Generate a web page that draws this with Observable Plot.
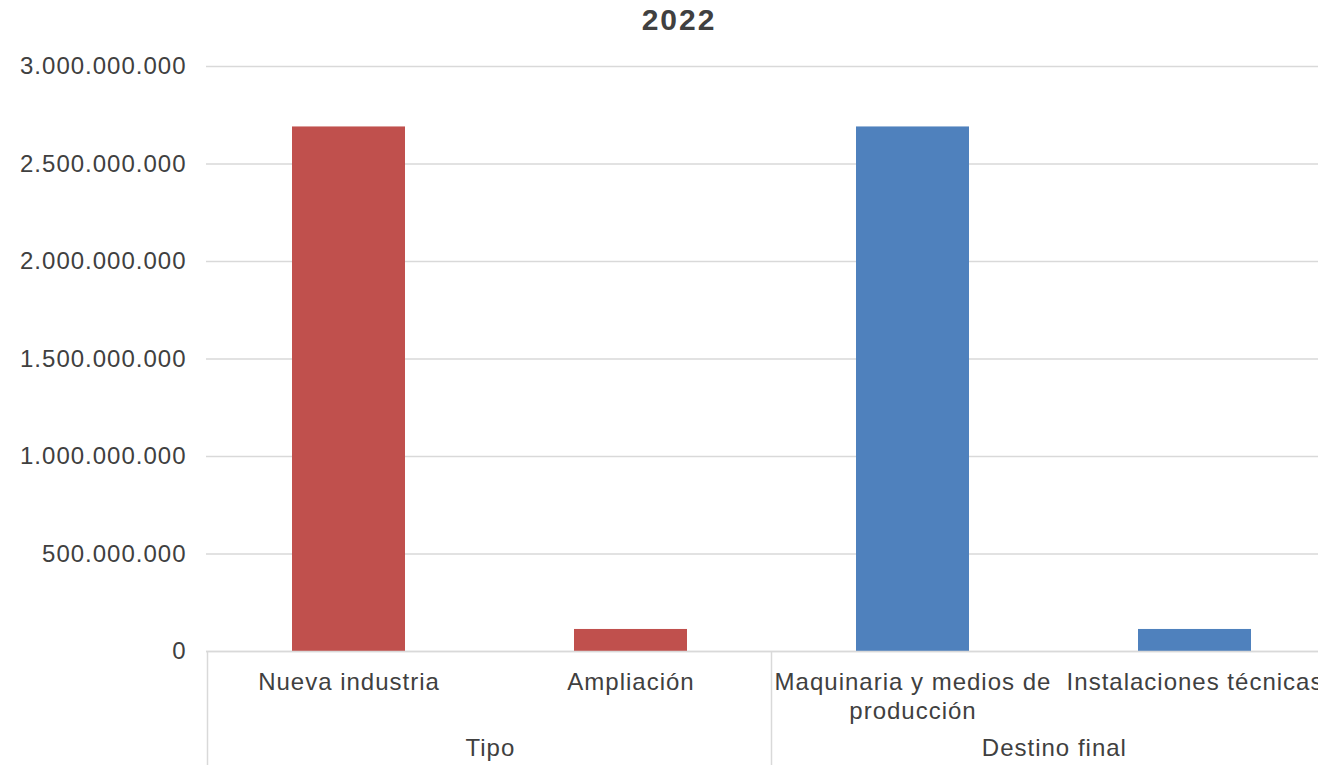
<!DOCTYPE html>
<html>
<head>
<meta charset="utf-8">
<script src="https://cdn.jsdelivr.net/npm/d3@7"></script>
<script src="https://cdn.jsdelivr.net/npm/@observablehq/plot@0.6"></script>
<style>
  html, body { margin: 0; padding: 0; background: #fff; overflow: hidden; width: 1318px; height: 765px; }
  #title { position: relative; width: 1318px; height: 40px; overflow: hidden; }
  #title span { position: absolute; left: 679px; top: 3px; transform: translateX(-50%); font: bold 30px "Liberation Sans", Arial, sans-serif; letter-spacing: 2px; color: #404040; white-space: nowrap; }
  #chart { width: 1318px; height: 725px; overflow: hidden; }
  #chart svg { display: block; max-width: none !important; height: 725px !important; width: 1340px !important; }
</style>
</head>
<body>
<div id="title"><span>2022</span></div>
<div id="chart"></div>
<script>
const categories = ["Nueva industria", "Ampliación", "Maquinaria y medios de producción", "Instalaciones técnicas"];
const tickLabels = ["Nueva industria", "Ampliación", "Maquinaria y medios de\nproducción", "Instalaciones técnicas"];
const groupOf = ["Tipo", "Tipo", "Destino final", "Destino final"];
const values = [2690000000, 113000000, 2690000000, 113000000];
const groupNames = ["Tipo", "Destino final"];
const groupColors = ["#C0504D", "#4F81BD"];
const yTicks = [0, 500000000, 1000000000, 1500000000, 2000000000, 2500000000, 3000000000];

const data = categories.map((c, i) => ({category: c, group: groupOf[i], value: values[i]}));
const labelOf = new Map(categories.map((c, i) => [c, tickLabels[i]]));
const groupFirst = groupNames.map(g => ({group: g, first: categories[groupOf.indexOf(g)]}));

const fmt = d3.formatLocale({decimal: ",", thousands: ".", grouping: [3], currency: ["", ""]}).format(",.0f");

const W = 1340, H = 725, mL = 206, mR = 3, mT = 26, mB = 114;
const step = (W - mL - mR) / categories.length;
const grid = "#d9d9d9";

const chart = Plot.plot({
  width: W, height: H,
  marginLeft: mL, marginRight: mR, marginTop: mT, marginBottom: mB,
  style: {color: "#404040", fontSize: "24px", fontFamily: "'Liberation Sans', Arial, sans-serif", background: "white", letterSpacing: "1px", maxWidth: "none"},
  x: {domain: categories, paddingInner: 0.6, paddingOuter: 0.3, axis: null},
  y: {domain: [0, 3000000000], axis: null},
  color: {domain: groupNames, range: groupColors},
  marks: [
    Plot.gridY(yTicks, {stroke: grid, strokeOpacity: 1, strokeWidth: 1.5}),
    Plot.axisY(yTicks, {tickSize: 0, tickPadding: 20, tickFormat: fmt, fontSize: 24, label: null}),
    Plot.barY(data, {x: "category", y: "value", fill: "group"}),
    Plot.ruleY([0], {stroke: grid, strokeWidth: 1.5}),
    Plot.axisX(categories, {tickSize: 0, tickPadding: 19, tickFormat: d => labelOf.get(d), fontSize: 24, lineHeight: 1.17, label: null}),
    Plot.text(groupFirst, {x: "first", text: "group", frameAnchor: "bottom", lineAnchor: "top", dy: 87, dx: step / 2, fontSize: 24})
  ]
});
document.getElementById("chart").appendChild(chart);

// group separators drawn from the band scale
const xs = chart.scale("x");
const seps = [categories[0], categories[groupOf.indexOf("Destino final")]];
const svg = d3.select(chart);
const y0 = H - mB;
seps.forEach(c => {
  const px = xs.apply(c) - (xs.step - xs.bandwidth) / 2;
  svg.append("line").attr("x1", px).attr("x2", px).attr("y1", y0).attr("y2", H)
    .attr("stroke", grid).attr("stroke-width", 1.5);
});
const last = categories[categories.length - 1];
const pxEnd = xs.apply(last) + xs.bandwidth + (xs.step - xs.bandwidth) / 2;
svg.append("line").attr("x1", pxEnd).attr("x2", pxEnd).attr("y1", y0).attr("y2", H)
  .attr("stroke", grid).attr("stroke-width", 1.5);
</script>
</body>
</html>
